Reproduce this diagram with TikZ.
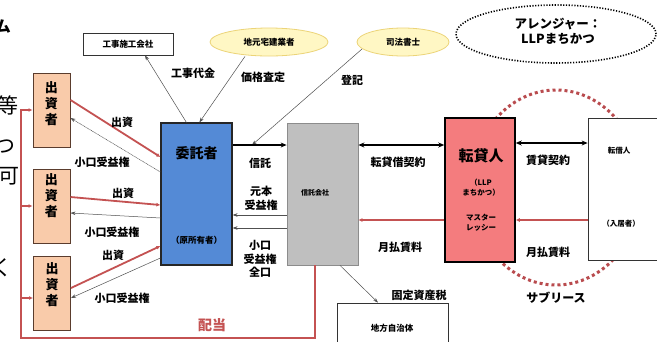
\documentclass[tikz,border=0pt]{standalone}
\usepackage{fontspec}
\setmainfont{Noto Sans CJK JP}
\usetikzlibrary{arrows.meta,shapes.geometric}
\definecolor{peach}{RGB}{249,203,170}
\definecolor{peachline}{RGB}{90,60,45}
\definecolor{bluebox}{RGB}{84,138,214}
\definecolor{graybox}{RGB}{191,191,191}
\definecolor{graylinebox}{RGB}{140,140,140}
\definecolor{redbox}{RGB}{244,124,126}
\definecolor{redline}{RGB}{196,82,82}
\definecolor{dotred}{RGB}{185,75,78}
\definecolor{ellfill}{RGB}{255,247,196}
\definecolor{ellline}{RGB}{236,212,120}
\definecolor{thinline}{RGB}{80,80,80}
\begin{document}
\begin{tikzpicture}[x=1pt,y=-1pt,
  lbl/.style={font=\bfseries\fontsize{11}{13.5}\selectfont,align=center,inner sep=0},
  boxtxt/.style={font=\bfseries\fontsize{8.5}{10}\selectfont,align=center,inner sep=0},
  tiny/.style={font=\bfseries\fontsize{7.5}{10}\selectfont,align=center,inner sep=0},
  invbox/.style={draw=peachline,line width=1pt,fill=peach,minimum width=37pt,minimum height=74pt,inner sep=0},
  invtxt/.style={font=\bfseries\fontsize{13}{16}\selectfont,align=center,inner sep=0,anchor=north},
  plainbox/.style={draw=black!80,line width=0.8pt,fill=white,inner sep=0},
  yell/.style={ellipse,draw=ellline,line width=0.8pt,fill=ellfill,inner sep=0},
  thin/.style={draw=thinline,line width=0.5pt,-{Stealth[length=5pt,width=3.5pt]}},
  thick/.style={draw=black,line width=1.8pt,-{Stealth[length=6pt,width=5pt]}},
  thickboth/.style={draw=black,line width=1.8pt,{Stealth[length=6pt,width=5pt]}-{Stealth[length=6pt,width=5pt]}},
  redarr/.style={draw=redline,line width=1.8pt,-{Latex[length=4pt,width=4pt]}},
  redthin/.style={draw=redline,line width=1.2pt,-{Latex[length=4pt,width=4pt]}},
  edge/.style={font=\fontsize{21}{21}\selectfont,inner sep=0}
]
\useasboundingbox[fill=white] (0,0) rectangle (657,341);

% cropped text at the left edge
\node[edge,font=\bfseries\fontsize{16}{16}\selectfont,anchor=east] (e0) at (11,27) {ム};
\node[edge] (e1) at (8,105) {等};
\node[edge] (e2) at (5,147) {つ};
\node[edge] (e3) at (9,176) {可};
\node[edge] (e4) at (2,268) {く};

% sublease dotted circle
\draw[dotred,line width=3pt,dash pattern=on 3pt off 3pt] (556,187.5) ellipse [x radius=85pt,y radius=97.5pt];

% top nodes
\node[plainbox,minimum width=90pt,minimum height=22pt] (koji) at (128,44) {};
\node[boxtxt] (kojit) at (koji.center) {工事施工会社};
\node[yell,minimum width=118pt,minimum height=28pt] (jimoto) at (269,42) {};
\node[boxtxt] (jimotot) at (jimoto.center) {地元宅建業者};
\node[yell,minimum width=92pt,minimum height=28pt] (shiho) at (403,42) {};
\node[boxtxt] (shihot) at (shiho.center) {司法書士};
\node[ellipse,draw=black,line width=1.6pt,dash pattern=on 1.2pt off 1.6pt,minimum width=200pt,minimum height=58pt,inner sep=0] (arr) at (556,34) {};
\node[font=\bfseries\fontsize{12.5}{15}\selectfont,align=center,inner sep=0] (arrt) at (558,31.5) {アレンジャー：\\LLPまちかつ};

% investors
\node[invbox] (inv1) at (51.5,110) {};
\node[invtxt] (inv1t) at (51.5,81) {出\\資\\者};
\node[invbox] (inv2) at (51.5,206) {};
\node[invtxt] (inv2t) at (51.5,173) {出\\資\\者};
\node[invbox] (inv3) at (52,293) {};
\node[invtxt] (inv3t) at (52,262) {出\\資\\者};

% main boxes
\node[draw=black!85,line width=1.2pt,fill=bluebox,minimum width=71pt,minimum height=142pt,inner sep=0] (itaku) at (196.5,194) {};
\node[font=\bfseries\fontsize{14}{16}\selectfont,inner sep=0] (itakut) at (196.5,153.5) {委託者};
\node[boxtxt] (itakut2) at (196.5,240) {（原所有者）};
\node[draw=graylinebox,line width=0.8pt,fill=graybox,minimum width=71pt,minimum height=142pt,inner sep=0] (shintaku) at (322.5,194) {};
\node[tiny,font=\bfseries\fontsize{7}{9}\selectfont] (shintakut) at (315,193) {信託会社};
\node[draw=black,line width=1.5pt,fill=redbox,minimum width=70pt,minimum height=144pt,inner sep=0] (tentai) at (480,190) {};
\node[font=\bfseries\fontsize{15}{17}\selectfont,inner sep=0] (tentait) at (481,156) {転貸人};
\node[tiny] (tentait2) at (481,188) {（LLP\\まちかつ）};
\node[tiny] (tentait3) at (481,222.5) {マスター\\レッシー};
\node[plainbox,minimum width=72pt,minimum height=142pt] (tenshaku) at (624,189) {};
\node[tiny] (tenshakut) at (619,151) {転借人};
\node[tiny] (tenshakut2) at (621,224) {（入居者）};
\node[plainbox,minimum width=111pt,minimum height=42pt] (chiho) at (392.5,324) {};
\node[boxtxt] (chihot) at (392,328) {地方自治体};

% upper connectors
\draw[thin] ([xshift=26pt]itaku.north west) -- ([xshift=17pt]koji.south);
\node[lbl] (l1) at (193,73) {工事代金};
\draw[thin] ([xshift=-24pt]jimoto.south) -- ([xshift=39pt]itaku.north west);
\node[lbl] (l2) at (263,77) {価格査定};
\coordinate (tk) at (252,145);
\draw[thin] ([xshift=-41pt,yshift=-7pt]shiho.center) -- (tk);
\node[lbl] (l3) at (352,80) {登記};

% trust relations
\draw[thick] ([yshift=49pt]itaku.east) -- ([yshift=49pt]shintaku.west);
\node[lbl] (l4) at (260,163) {信託};
\draw[thin] ([yshift=-21pt]shintaku.west) -- ([yshift=-21pt]itaku.east);
\node[lbl] (l5) at (261,198.5) {元本\\受益権};
\draw[thin] ([yshift=-34pt]shintaku.west) -- ([yshift=-34pt]itaku.east);
\node[lbl] (l6) at (260,259) {小口\\受益権\\全口};

% lease relations
\draw[thickboth] ([yshift=49pt]shintaku.east) -- ([yshift=45pt]tentai.west);
\node[lbl] (l7) at (398,162) {転貸借契約};
\draw[redthin,line width=1.6pt] ([yshift=-30pt]tentai.west) -- ([yshift=-26pt]shintaku.east);
\node[lbl] (l8) at (400,247) {月払賃料};
\draw[thickboth] ([yshift=47pt]tentai.east) -- ([yshift=46pt]tenshaku.west);
\node[lbl] (l9) at (548,160) {賃貸契約};
\draw[redthin,line width=1.6pt] ([yshift=-31pt]tenshaku.west) -- ([yshift=-30pt]tentai.east);
\node[lbl] (l10) at (548,252) {月払賃料};
\node[lbl,font=\bfseries\fontsize{12}{14}\selectfont] (l11) at (556,298) {サブリース};

% property tax
\draw[thin] ([xshift=17.5pt]shintaku.south) -- ([xshift=-14.5pt]chiho.north);
\node[lbl] (l12) at (419,295) {固定資産税};

% dividends
\coordinate (hl) at (21,338);
\draw[redthin] ([xshift=-7.5pt]shintaku.south) |- (hl) |- (inv1.west);
\draw[redthin] (inv2.west -| hl) -- (inv2.west);
\draw[redthin] ([yshift=-5pt]inv3.west -| hl) -- ([yshift=-5pt]inv3.west);
\node[lbl,text=redline,font=\bfseries\fontsize{14}{16}\selectfont] (l13) at (212,325) {配当};

% investments and small-lot beneficial interests
\draw[redarr] ([yshift=10pt]inv1.east) -- ([yshift=37pt]itaku.west);
\node[lbl] (s1) at (122,122) {出資};
\draw[thin,dash pattern=on 1pt off 0.6pt] ([yshift=22pt]itaku.west) -- ([yshift=-8pt]inv1.east);
\node[lbl] (k1) at (102,162) {小口受益権};
\draw[redarr] ([yshift=9pt]inv2.east) -- ([yshift=-11pt]itaku.west);
\node[lbl] (s2) at (123,193) {出資};
\draw[thin] ([yshift=-24pt]itaku.west) -- ([yshift=-7pt]inv2.east);
\node[lbl] (k2) at (112,232) {小口受益権};
\draw[redarr] ([yshift=5pt]inv3.east) -- ([yshift=-52pt]itaku.west);
\node[lbl] (s3) at (113,255) {出資};
\draw[thin] ([yshift=-64pt]itaku.west) -- ([yshift=-5pt]inv3.east);
\node[lbl] (k3) at (122,298) {小口受益権};
\end{tikzpicture}
\end{document}
